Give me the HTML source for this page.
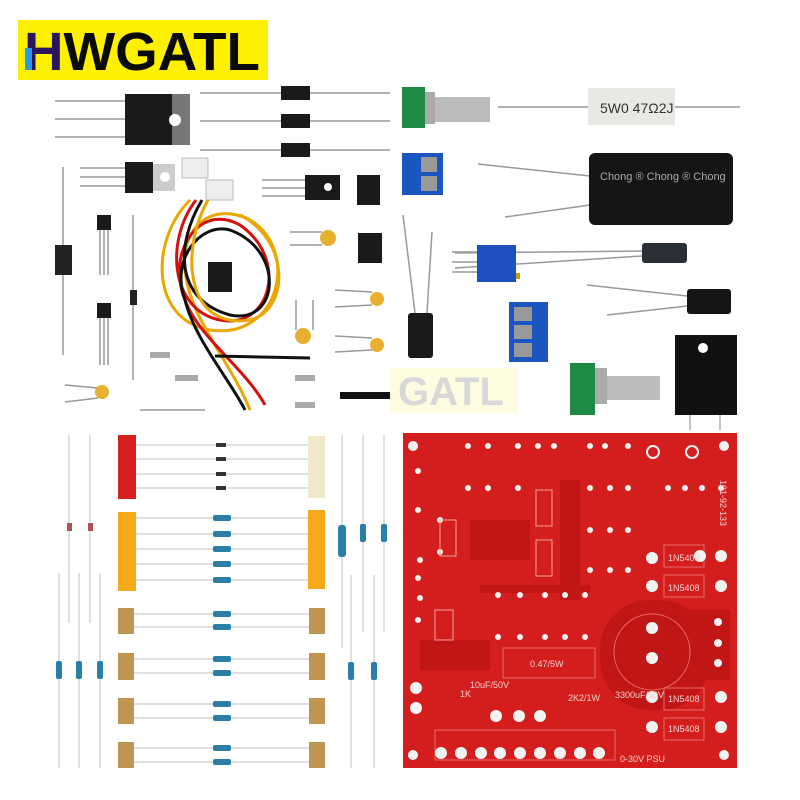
<!DOCTYPE html>
<html><head><meta charset="utf-8"><style>
html,body{margin:0;padding:0;background:#fff;width:800px;height:800px;overflow:hidden}
</style></head><body>
<svg width="800" height="800" viewBox="0 0 800 800" xmlns="http://www.w3.org/2000/svg" font-family="Liberation Sans, sans-serif">
<rect width="800" height="800" fill="#fff"/>
<!-- logo -->
<rect x="18" y="20" width="250" height="60" fill="#fdf000"/>
<text x="24" y="70" font-size="54" font-weight="bold" fill="#0a0a0a" textLength="236" lengthAdjust="spacingAndGlyphs"><tspan fill="#2a1560">H</tspan>WGATL</text>
<rect x="25" y="48" width="7" height="22" fill="#2a9be8"/>

<!-- top leads -->
<g stroke="#999" stroke-width="1.5">
<line x1="55" y1="101" x2="125" y2="101"/><line x1="55" y1="119" x2="125" y2="119"/><line x1="55" y1="137" x2="125" y2="137"/>
<line x1="200" y1="93" x2="390" y2="93"/><line x1="200" y1="121" x2="390" y2="121"/><line x1="200" y1="150" x2="390" y2="150"/>
<line x1="80" y1="168" x2="125" y2="168"/><line x1="80" y1="177" x2="125" y2="177"/><line x1="80" y1="186" x2="125" y2="186"/>
<line x1="262" y1="180" x2="305" y2="180"/><line x1="262" y1="188" x2="305" y2="188"/><line x1="262" y1="196" x2="305" y2="196"/>
<line x1="63" y1="167" x2="63" y2="355"/><line x1="133" y1="215" x2="133" y2="380"/>
<line x1="100" y1="230" x2="100" y2="275"/><line x1="104" y1="230" x2="104" y2="275"/><line x1="108" y1="230" x2="108" y2="275"/>
<line x1="100" y1="318" x2="100" y2="365"/><line x1="104" y1="318" x2="104" y2="365"/><line x1="108" y1="318" x2="108" y2="365"/>
<line x1="498" y1="107" x2="740" y2="107"/>
<line x1="478" y1="164" x2="590" y2="176"/><line x1="505" y1="217" x2="590" y2="205"/>
<line x1="455" y1="253" x2="642" y2="251"/><line x1="455" y1="268" x2="642" y2="256"/>
<line x1="587" y1="285" x2="687" y2="296"/><line x1="607" y1="315" x2="687" y2="306"/>
<line x1="403" y1="215" x2="415" y2="313"/><line x1="432" y1="232" x2="427" y2="313"/>
<line x1="452" y1="252" x2="477" y2="252"/><line x1="452" y1="262" x2="477" y2="262"/><line x1="452" y1="272" x2="477" y2="272"/>
<line x1="290" y1="232" x2="322" y2="232"/><line x1="290" y1="245" x2="322" y2="245"/>
<line x1="335" y1="290" x2="372" y2="292"/><line x1="335" y1="307" x2="372" y2="305"/>
<line x1="335" y1="336" x2="372" y2="338"/><line x1="335" y1="352" x2="372" y2="350"/>
<line x1="296" y1="300" x2="296" y2="330"/><line x1="313" y1="300" x2="313" y2="330"/>
<line x1="65" y1="385" x2="98" y2="388"/><line x1="65" y1="402" x2="98" y2="398"/>
<line x1="140" y1="410" x2="205" y2="410"/>
</g>
<rect x="125" y="94" width="65" height="51" fill="#1b1b1b"/><rect x="172" y="94" width="18" height="51" fill="#777"/><circle cx="175" cy="120" r="6" fill="#fff"/>
<rect x="281" y="86" width="29" height="14" fill="#1a1a1a"/><rect x="281" y="114" width="29" height="14" fill="#1a1a1a"/><rect x="281" y="143" width="29" height="14" fill="#1a1a1a"/>
<rect x="125" y="162" width="28" height="31" fill="#1b1b1b"/><rect x="153" y="164" width="22" height="27" fill="#ccc"/><circle cx="165" cy="177" r="5" fill="#fff"/>
<rect x="182" y="158" width="26" height="20" fill="#eee" stroke="#bbb"/><rect x="206" y="180" width="27" height="20" fill="#eee" stroke="#bbb"/>
<rect x="305" y="175" width="35" height="25" fill="#1a1a1a"/><circle cx="328" cy="187" r="4" fill="#fff"/>
<rect x="357" y="175" width="23" height="30" fill="#1a1a1a"/><rect x="358" y="233" width="24" height="30" fill="#1a1a1a"/><rect x="208" y="262" width="24" height="30" fill="#1a1a1a"/>
<rect x="55" y="245" width="17" height="30" fill="#222"/><rect x="130" y="290" width="7" height="15" fill="#222"/>
<rect x="97" y="215" width="14" height="15" fill="#1a1a1a"/><rect x="97" y="303" width="14" height="15" fill="#1a1a1a"/>
<g fill="#e8b030"><circle cx="328" cy="238" r="8"/><circle cx="377" cy="299" r="7"/><circle cx="377" cy="345" r="7"/><circle cx="303" cy="336" r="8"/><circle cx="102" cy="392" r="7"/></g>
<g fill="none" stroke-width="3">
<path d="M190 200 C150 240 150 320 210 330 C280 340 300 250 250 220 C210 200 180 230 185 270 C190 320 230 360 250 410" stroke="#e8a800"/>
<path d="M196 200 C165 240 170 310 220 320 C270 330 290 260 240 225 C205 205 175 240 180 280 C185 330 240 360 265 405" stroke="#d41010"/>
<path d="M202 200 C175 245 175 300 230 315 C280 325 285 250 230 230 C200 222 170 260 185 300 C195 340 230 380 245 410 M215 356 L310 358" stroke="#111"/>
<path d="M208 200 C180 250 185 330 250 320 C290 310 290 240 240 215" stroke="#e8a800"/>
</g>
<g fill="#aaa"><rect x="150" y="352" width="20" height="6"/><rect x="175" y="375" width="23" height="6"/><rect x="295" y="375" width="20" height="6"/><rect x="295" y="402" width="20" height="6"/></g>
<rect x="390" y="368" width="128" height="45" fill="#fdfbe0"/>
<text x="398" y="405" font-size="40" font-weight="bold" fill="#d8d8d8">GATL</text>
<rect x="340" y="392" width="50" height="7" fill="#111"/>
<rect x="402" y="87" width="23" height="41" fill="#1e8a45"/><rect x="425" y="92" width="10" height="32" fill="#aaa"/><rect x="435" y="97" width="55" height="25" fill="#bbb"/>
<rect x="588" y="88" width="87" height="37" fill="#e8e8e4"/><text x="600" y="113" font-size="14" fill="#333">5W0 47Ω2J</text>
<rect x="402" y="153" width="41" height="42" fill="#1a55c0"/><rect x="421" y="157" width="16" height="15" fill="#999"/><rect x="421" y="176" width="16" height="15" fill="#999"/>
<rect x="509" y="302" width="39" height="60" fill="#1a55c0"/><rect x="514" y="307" width="18" height="14" fill="#999"/><rect x="514" y="325" width="18" height="14" fill="#999"/><rect x="514" y="343" width="18" height="14" fill="#999"/>
<rect x="589" y="153" width="144" height="72" rx="6" fill="#151515"/>
<text x="600" y="180" font-size="11" fill="#aaa">Chong ® Chong ® Chong</text>
<rect x="477" y="245" width="39" height="37" fill="#2050c0"/><rect x="516" y="273" width="4" height="6" fill="#c90"/>
<rect x="642" y="243" width="45" height="20" rx="3" fill="#2a2f35"/><rect x="687" y="289" width="44" height="25" rx="3" fill="#151515"/>
<rect x="408" y="313" width="25" height="45" rx="3" fill="#1a1a1a"/>
<rect x="570" y="363" width="25" height="52" fill="#1e8a45"/><rect x="595" y="368" width="12" height="36" fill="#aaa"/><rect x="607" y="376" width="53" height="24" fill="#bbb"/>
<rect x="675" y="335" width="62" height="80" fill="#111"/><circle cx="703" cy="348" r="5" fill="#fff"/>
<line x1="690" y1="415" x2="690" y2="430" stroke="#888"/><line x1="720" y1="415" x2="720" y2="430" stroke="#888"/>

<g stroke="#ccc" stroke-width="1.2">
<line x1="136" y1="445" x2="308" y2="445"/><line x1="136" y1="459" x2="308" y2="459"/><line x1="136" y1="474" x2="308" y2="474"/><line x1="136" y1="488" x2="308" y2="488"/>
<line x1="136" y1="518" x2="308" y2="518"/><line x1="136" y1="534" x2="308" y2="534"/><line x1="136" y1="549" x2="308" y2="549"/><line x1="136" y1="564" x2="308" y2="564"/><line x1="136" y1="580" x2="308" y2="580"/>
<line x1="134" y1="614" x2="309" y2="614"/><line x1="134" y1="627" x2="309" y2="627"/><line x1="134" y1="659" x2="309" y2="659"/><line x1="134" y1="673" x2="309" y2="673"/>
<line x1="134" y1="704" x2="309" y2="704"/><line x1="134" y1="718" x2="309" y2="718"/><line x1="134" y1="748" x2="309" y2="748"/><line x1="134" y1="762" x2="309" y2="762"/>
<line x1="69" y1="435" x2="69" y2="623"/><line x1="90" y1="435" x2="90" y2="623"/>
<line x1="59" y1="573" x2="59" y2="768"/><line x1="79" y1="573" x2="79" y2="768"/><line x1="100" y1="573" x2="100" y2="768"/>
<line x1="342" y1="435" x2="342" y2="648"/><line x1="363" y1="435" x2="363" y2="632"/><line x1="384" y1="435" x2="384" y2="632"/>
<line x1="351" y1="575" x2="351" y2="768"/><line x1="374" y1="575" x2="374" y2="768"/>
</g>
<rect x="118" y="435" width="18" height="64" fill="#d81e1e"/><rect x="308" y="436" width="17" height="62" fill="#f0e8c8"/>
<rect x="118" y="512" width="18" height="79" fill="#f4a81a"/><rect x="308" y="510" width="17" height="79" fill="#f4a81a"/>
<g fill="#c09550"><rect x="118" y="608" width="16" height="26"/><rect x="118" y="653" width="16" height="27"/><rect x="118" y="698" width="16" height="26"/><rect x="118" y="742" width="16" height="26"/>
<rect x="309" y="608" width="16" height="26"/><rect x="309" y="653" width="16" height="27"/><rect x="309" y="698" width="16" height="26"/><rect x="309" y="742" width="16" height="26"/></g>
<g fill="#333"><rect x="216" y="443" width="10" height="4"/><rect x="216" y="457" width="10" height="4"/><rect x="216" y="472" width="10" height="4"/><rect x="216" y="486" width="10" height="4"/></g>
<g fill="#2a7fa8"><rect x="213" y="515" width="18" height="6" rx="2"/><rect x="213" y="531" width="18" height="6" rx="2"/><rect x="213" y="546" width="18" height="6" rx="2"/><rect x="213" y="561" width="18" height="6" rx="2"/><rect x="213" y="577" width="18" height="6" rx="2"/>
<rect x="213" y="611" width="18" height="6" rx="2"/><rect x="213" y="624" width="18" height="6" rx="2"/><rect x="213" y="656" width="18" height="6" rx="2"/><rect x="213" y="670" width="18" height="6" rx="2"/>
<rect x="213" y="701" width="18" height="6" rx="2"/><rect x="213" y="715" width="18" height="6" rx="2"/><rect x="213" y="745" width="18" height="6" rx="2"/><rect x="213" y="759" width="18" height="6" rx="2"/>
<rect x="338" y="525" width="8" height="32" rx="3"/><rect x="360" y="524" width="6" height="18" rx="2"/><rect x="381" y="524" width="6" height="18" rx="2"/>
<rect x="56" y="661" width="6" height="18" rx="2"/><rect x="76" y="661" width="6" height="18" rx="2"/><rect x="97" y="661" width="6" height="18" rx="2"/>
<rect x="348" y="662" width="6" height="18" rx="2"/><rect x="371" y="662" width="6" height="18" rx="2"/></g>
<rect x="67" y="523" width="5" height="8" fill="#a55"/><rect x="88" y="523" width="5" height="8" fill="#a55"/>

<!-- PCB -->
<rect x="403" y="433" width="334" height="335" fill="#d41e1e"/>
<g fill="#c01616">
<rect x="470" y="520" width="60" height="40"/><rect x="600" y="600" width="110" height="110" rx="50"/><rect x="420" y="640" width="70" height="30"/>
<rect x="560" y="480" width="20" height="120"/><rect x="480" y="585" width="110" height="8"/><rect x="690" y="610" width="40" height="70"/>
</g>
<g fill="none" stroke="#e86a6a" stroke-width="1">
<rect x="503" y="648" width="92" height="30"/><circle cx="652" cy="652" r="38"/>
<rect x="664" y="545" width="40" height="22"/><rect x="664" y="575" width="40" height="22"/><rect x="664" y="688" width="40" height="22"/><rect x="664" y="718" width="40" height="22"/>
<rect x="435" y="730" width="180" height="30"/>
</g>
<g fill="#f2f2f2">
<circle cx="413" cy="446" r="5"/><circle cx="724" cy="446" r="5"/><circle cx="413" cy="755" r="5"/><circle cx="724" cy="755" r="5"/>
<circle cx="700" cy="556" r="6"/><circle cx="721" cy="556" r="6"/><circle cx="652" cy="558" r="6"/><circle cx="721" cy="586" r="6"/><circle cx="652" cy="586" r="6"/>
<circle cx="652" cy="628" r="6"/><circle cx="652" cy="658" r="6"/>
<circle cx="652" cy="697" r="6"/><circle cx="721" cy="697" r="6"/><circle cx="652" cy="727" r="6"/><circle cx="721" cy="727" r="6"/>
<circle cx="416" cy="688" r="6"/><circle cx="416" cy="708" r="6"/>
<circle cx="496" cy="716" r="6"/><circle cx="519" cy="716" r="6"/><circle cx="540" cy="716" r="6"/>
<circle cx="718" cy="622" r="4"/><circle cx="718" cy="643" r="4"/><circle cx="718" cy="663" r="4"/>
<circle cx="441" cy="753" r="6"/><circle cx="461" cy="753" r="6"/><circle cx="481" cy="753" r="6"/><circle cx="500" cy="753" r="6"/><circle cx="520" cy="753" r="6"/><circle cx="540" cy="753" r="6"/><circle cx="560" cy="753" r="6"/><circle cx="580" cy="753" r="6"/><circle cx="599" cy="753" r="6"/>
<circle cx="653" cy="452" r="6" fill="none" stroke="#f2f2f2" stroke-width="2"/><circle cx="692" cy="452" r="6" fill="none" stroke="#f2f2f2" stroke-width="2"/>
</g>
<g fill="#f2f2f2">
<circle cx="468" cy="446" r="3"/><circle cx="488" cy="446" r="3"/><circle cx="518" cy="446" r="3"/><circle cx="538" cy="446" r="3"/><circle cx="554" cy="446" r="3"/>
<circle cx="590" cy="446" r="3"/><circle cx="605" cy="446" r="3"/><circle cx="628" cy="446" r="3"/>
<circle cx="468" cy="488" r="3"/><circle cx="488" cy="488" r="3"/><circle cx="518" cy="488" r="3"/><circle cx="590" cy="488" r="3"/><circle cx="610" cy="488" r="3"/><circle cx="628" cy="488" r="3"/><circle cx="668" cy="488" r="3"/><circle cx="685" cy="488" r="3"/><circle cx="702" cy="488" r="3"/><circle cx="721" cy="488" r="3"/>
<circle cx="498" cy="595" r="3"/><circle cx="520" cy="595" r="3"/><circle cx="545" cy="595" r="3"/><circle cx="565" cy="595" r="3"/><circle cx="585" cy="595" r="3"/>
<circle cx="498" cy="637" r="3"/><circle cx="520" cy="637" r="3"/><circle cx="545" cy="637" r="3"/><circle cx="565" cy="637" r="3"/><circle cx="585" cy="637" r="3"/>
<circle cx="590" cy="530" r="3"/><circle cx="610" cy="530" r="3"/><circle cx="628" cy="530" r="3"/><circle cx="590" cy="570" r="3"/><circle cx="610" cy="570" r="3"/><circle cx="628" cy="570" r="3"/>
<circle cx="440" cy="520" r="3"/><circle cx="440" cy="552" r="3"/><circle cx="420" cy="560" r="3"/><circle cx="420" cy="598" r="3"/>
<circle cx="418" cy="471" r="3"/><circle cx="418" cy="510" r="3"/><circle cx="418" cy="578" r="3"/><circle cx="418" cy="620" r="3"/>
</g>
<g fill="none" stroke="#f0a0a0" stroke-width="1">
<rect x="536" y="490" width="16" height="36"/><rect x="536" y="540" width="16" height="36"/>
<rect x="440" y="520" width="16" height="36"/><rect x="435" y="610" width="18" height="30"/>
</g>
<g font-size="9" fill="#f6d0d0">
<text x="668" y="561">1N5408</text><text x="668" y="591">1N5408</text><text x="668" y="702">1N5408</text><text x="668" y="732">1N5408</text>
<text x="530" y="667">0.47/5W</text><text x="615" y="698">3300uF/50V</text><text x="568" y="701">2K2/1W</text>
<text x="620" y="762">0-30V PSU</text><text x="460" y="697">1K</text><text x="470" y="688">10uF/50V</text>
<text x="720" y="480" transform="rotate(90 720 480)">101-92-133</text>
</g>
</svg>
</body></html>
